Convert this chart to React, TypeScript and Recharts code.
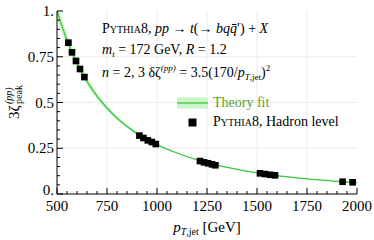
import React from 'react';
import { ComposedChart, XAxis, YAxis, ZAxis, CartesianGrid, Line, Area, Scatter } from 'recharts';

// Theory fit curve
const fitPt = [500, 550, 600, 650, 700, 750, 800, 900, 1000, 1100, 1200, 1300, 1400, 1500, 1600, 1700, 1800, 1900, 2000];
const fitVal = [1.0, 0.84, 0.715, 0.615, 0.535, 0.47, 0.415, 0.33, 0.27, 0.224, 0.187, 0.158, 0.135, 0.116, 0.1, 0.088, 0.078, 0.069, 0.062];
const fitLo = [0.96, 0.808, 0.69, 0.595, 0.519, 0.457, 0.405, 0.323, 0.265, 0.221, 0.185, 0.156, 0.134, 0.115, 0.099, 0.087, 0.077, 0.068, 0.061];
const fitHi = [1.04, 0.872, 0.74, 0.635, 0.551, 0.483, 0.425, 0.337, 0.275, 0.227, 0.189, 0.16, 0.136, 0.117, 0.101, 0.089, 0.079, 0.07, 0.063];

// Pythia8 hadron level points
const pythiaPt = [557, 575, 595, 615, 637, 912, 932, 954, 974, 994, 1215, 1235, 1255, 1275, 1292, 1515, 1540, 1565, 1590, 1928, 1978];
const pythiaVal = [0.827, 0.774, 0.727, 0.683, 0.639, 0.319, 0.306, 0.293, 0.284, 0.273, 0.18, 0.173, 0.168, 0.162, 0.157, 0.113, 0.109, 0.105, 0.102, 0.067, 0.064];

const xMajor = [500, 750, 1000, 1250, 1500, 1750, 2000];
const xMajorLabels = ['500', '750', '1000', '1250', '1500', '1750', '2000'];
const xMinor = [500, 550, 600, 650, 700, 750, 800, 850, 900, 950, 1000, 1050, 1100, 1150, 1200, 1250, 1300, 1350, 1400, 1450, 1500, 1550, 1600, 1650, 1700, 1750, 1800, 1850, 1900, 1950, 2000];
const yMajor = [0, 0.25, 0.5, 0.75, 1];
const yMajorLabels = ['0.', '0.25', '0.5', '0.75', '1.'];
const yMinor = [0, 0.05, 0.1, 0.15, 0.2, 0.25, 0.3, 0.35, 0.4, 0.45, 0.5, 0.55, 0.6, 0.65, 0.7, 0.75, 0.8, 0.85, 0.9, 0.95, 1];
const gridX = [750, 1000, 1250, 1500, 1750];
const gridY = [0.25, 0.5, 0.75];

const fitRows = fitPt.map((x, i) => ({ x, y: fitVal[i], band: [fitLo[i], fitHi[i]] }));
const pythiaRows = pythiaPt.map((x, i) => ({ x, y: pythiaVal[i] }));

const FONT = "'Liberation Serif', 'DejaVu Serif', serif";
const GREEN = '#3cc83c';
const BAND = '#c9f5c9';
const TEXT_GREEN = '#52a224';

const isMajorX = (v: number) => xMajor.indexOf(v);
const isMajorY = (v: number) => yMajor.findIndex((m) => Math.abs(m - v) < 1e-9);

const BottomTick = (props: any) => {
  const { x, y, payload } = props;
  const idx = isMajorX(payload.value);
  return (
    <g>
      <line x1={x} x2={x} y1={y} y2={y - (idx >= 0 ? 6 : 3)} stroke="#000" strokeWidth={1} />
      {idx >= 0 && (
        <text x={x} y={y + 17} textAnchor="middle" style={{ fontFamily: FONT }} fontSize={15} fill="#000">
          {xMajorLabels[idx]}
        </text>
      )}
    </g>
  );
};

const TopTick = (props: any) => {
  const { x, y, payload } = props;
  const idx = isMajorX(payload.value);
  return <line x1={x} x2={x} y1={y} y2={y + (idx >= 0 ? 6 : 3)} stroke="#000" strokeWidth={1} />;
};

const LeftTick = (props: any) => {
  const { x, y, payload } = props;
  const idx = isMajorY(payload.value);
  const dy = idx === 0 ? 1 : 5;
  return (
    <g>
      <line x1={x} x2={x + (idx >= 0 ? 6 : 3)} y1={y} y2={y} stroke="#000" strokeWidth={1} />
      {idx >= 0 && (
        <text x={x - 3} y={y + dy} textAnchor="end" style={{ fontFamily: FONT }} fontSize={15} fill="#000">
          {yMajorLabels[idx]}
        </text>
      )}
    </g>
  );
};

const RightTick = (props: any) => {
  const { x, y, payload } = props;
  const idx = isMajorY(payload.value);
  return <line x1={x} x2={x - (idx >= 0 ? 6 : 3)} y1={y} y2={y} stroke="#000" strokeWidth={1} />;
};

export default function App() {
  return (
    <div style={{ position: 'absolute', left: 0, top: 0, width: 374, height: 240, background: '#fff' }}>
      <ComposedChart width={374} height={240} margin={{ top: 11, right: 17, bottom: 0, left: 0 }} data={fitRows}>
        <CartesianGrid
          xAxisId="b"
          yAxisId="l"
          stroke="#ebebeb"
          strokeWidth={1}
          verticalValues={gridX}
          horizontalValues={gridY}
        />
        <XAxis
          xAxisId="b"
          dataKey="x"
          type="number"
          domain={[500, 2000]}
          ticks={xMinor}
          interval={0}
          tick={<BottomTick />}
          tickLine={false}
          tickSize={0}
          tickMargin={0}
          axisLine={{ stroke: '#000' }}
          height={46}
          allowDataOverflow
        />
        <XAxis
          xAxisId="t"
          orientation="top"
          dataKey="x"
          type="number"
          domain={[500, 2000]}
          ticks={xMinor}
          interval={0}
          tick={<TopTick />}
          tickLine={false}
          tickSize={0}
          tickMargin={0}
          axisLine={{ stroke: '#000' }}
          height={0}
          allowDataOverflow
        />
        <YAxis
          yAxisId="l"
          dataKey="y"
          type="number"
          domain={[0, 1]}
          ticks={yMinor}
          interval={0}
          tick={<LeftTick />}
          tickLine={false}
          tickSize={0}
          tickMargin={0}
          axisLine={{ stroke: '#000' }}
          width={57}
          allowDataOverflow
        />
        <YAxis
          yAxisId="r"
          orientation="right"
          dataKey="y"
          type="number"
          domain={[0, 1]}
          ticks={yMinor}
          interval={0}
          tick={<RightTick />}
          tickLine={false}
          tickSize={0}
          tickMargin={0}
          axisLine={{ stroke: '#000' }}
          width={0}
          allowDataOverflow
        />
        <ZAxis range={[44, 44]} />
        <Area
          xAxisId="b"
          yAxisId="l"
          dataKey="band"
          type="monotone"
          stroke="none"
          fill={BAND}
          fillOpacity={1}
          isAnimationActive={false}
        />
        <Line
          xAxisId="b"
          yAxisId="l"
          dataKey="y"
          type="monotone"
          stroke={GREEN}
          strokeWidth={1.3}
          dot={false}
          isAnimationActive={false}
        />
        <Scatter
          xAxisId="b"
          yAxisId="l"
          data={pythiaRows}
          dataKey="y"
          shape="square"
          fill="#000"
          isAnimationActive={false}
        />
      </ComposedChart>
      <svg
        width={374}
        height={240}
        style={{ position: 'absolute', left: 0, top: 0, pointerEvents: 'none' }}
        fontFamily={FONT}
      >
        {/* y-axis label */}
        <g transform="translate(18.5,119) rotate(-90)">
          <text x={0} y={0} fontSize={15} fill="#000">
            3ζ
          </text>
          <text x={15} y={-7} fontSize={10} fontStyle="italic" fill="#000">
            (pp)
          </text>
          <text x={15} y={3.5} fontSize={10} fill="#000">
            peak
          </text>
        </g>
        {/* x-axis label */}
        <text x={207} y={232} textAnchor="middle" fontSize={15} fill="#000">
          <tspan fontStyle="italic">p</tspan>
          <tspan fontSize={10} dy={3} fontStyle="italic">T</tspan>
          <tspan fontSize={10}>,jet</tspan>
          <tspan dy={-3}> [GeV]</tspan>
        </text>
        {/* annotation */}
        <text x={102} y={33} fontSize={14} fill="#000">
          <tspan style={{ fontVariant: 'small-caps' }}>Pythia8</tspan>
          <tspan>, </tspan>
          <tspan fontStyle="italic">pp</tspan>
          <tspan> → </tspan>
          <tspan fontStyle="italic">t</tspan>
          <tspan>(→ </tspan>
          <tspan fontStyle="italic">bq</tspan>
          <tspan fontStyle="italic">q̄</tspan>
          <tspan>′) + </tspan>
          <tspan fontStyle="italic">X</tspan>
        </text>
        <text x={102} y={54} fontSize={14} fill="#000">
          <tspan fontStyle="italic">m</tspan>
          <tspan fontSize={9} dy={3} fontStyle="italic">t</tspan>
          <tspan dy={-3}> = 172 GeV, </tspan>
          <tspan fontStyle="italic">R</tspan>
          <tspan> = 1.2</tspan>
        </text>
        <text x={102} y={77} fontSize={14} fill="#000">
          <tspan fontStyle="italic">n</tspan>
          <tspan> = 2, 3 δζ</tspan>
          <tspan fontSize={9} dy={-6} fontStyle="italic">(pp)</tspan>
          <tspan dy={6}> = 3.5(170/</tspan>
          <tspan fontStyle="italic">p</tspan>
          <tspan fontSize={9} dy={3} fontStyle="italic">T</tspan>
          <tspan fontSize={9}>,jet</tspan>
          <tspan dy={-3}>)</tspan>
          <tspan fontSize={9} dy={-6}>2</tspan>
        </text>
        {/* legend */}
        <rect x={177} y={97.5} width={31} height={11} fill={BAND} />
        <line x1={177} x2={208} y1={103} y2={103} stroke={GREEN} strokeWidth={1.3} />
        <text x={213} y={107} fontSize={14} fill={TEXT_GREEN}>
          Theory fit
        </text>
        <rect x={188.5} y={118.5} width={8} height={8} fill="#000" />
        <text x={213} y={126} fontSize={14} fill="#000">
          <tspan style={{ fontVariant: 'small-caps' }}>Pythia8</tspan>
          <tspan>, Hadron level</tspan>
        </text>
      </svg>
    </div>
  );
}
